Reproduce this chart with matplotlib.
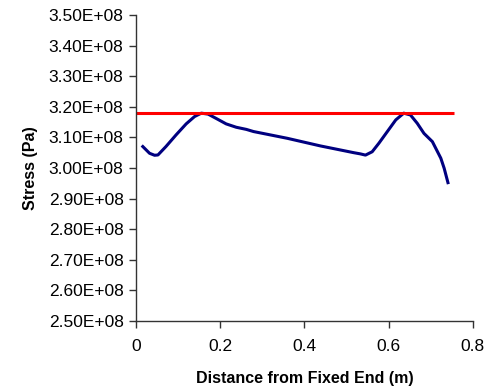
import matplotlib
matplotlib.use('Agg')
from matplotlib import pyplot as plt
from matplotlib.ticker import FuncFormatter

plt.rcParams['font.family'] = ['Liberation Sans', 'DejaVu Sans']

# data
dist = [0.016, 0.032, 0.044, 0.052, 0.071, 0.095, 0.119, 0.139, 0.155, 0.171,
        0.190, 0.214, 0.238, 0.262, 0.279, 0.359, 0.438, 0.517, 0.533, 0.545,
        0.561, 0.577, 0.597, 0.617, 0.636, 0.652, 0.668, 0.684, 0.704, 0.724,
        0.732, 0.741]
stress = [3.070, 3.048, 3.0415, 3.0425, 3.070, 3.108, 3.144, 3.168, 3.179, 3.176,
          3.162, 3.144, 3.133, 3.126, 3.119, 3.097, 3.072, 3.050, 3.046, 3.042,
          3.053, 3.081, 3.119, 3.157, 3.179, 3.173, 3.146, 3.113, 3.086, 3.032,
          2.999, 2.952]
stress = [s * 1e8 for s in stress]
limit_x = [0.0, 0.755]
limit_y = [3.181e8, 3.181e8]

fig = plt.figure(figsize=(4.93, 3.92), dpi=100)
ax = fig.add_axes([0.276, 0.181, 0.683, 0.781])

ax.plot(dist, stress, color='#000080', lw=2.2, solid_joinstyle='round')
ax.plot(limit_x, limit_y, color='#FF0000', lw=2.2, solid_capstyle='butt')

ax.set_xlim(0, 0.8)
ax.set_ylim(2.5e8, 3.5e8)
ax.set_xticks([0, 0.2, 0.4, 0.6, 0.8])
ax.set_xticklabels(['0', '0.2', '0.4', '0.6', '0.8'])
ax.set_yticks([2.5e8 + i * 0.1e8 for i in range(11)])
ax.yaxis.set_major_formatter(FuncFormatter(lambda v, p: '%.2fE+08' % (v / 1e8)))

for s in ['top', 'right']:
    ax.spines[s].set_visible(False)
for s in ['left', 'bottom']:
    ax.spines[s].set_color('#333333')
    ax.spines[s].set_linewidth(1.0)

ax.tick_params(axis='both', direction='out', length=5, width=1, color='#333333',
               labelsize=12.5, labelcolor='black')
ax.tick_params(axis='x', pad=8)
ax.tick_params(axis='y', pad=4)

ax.set_xlabel('Distance from Fixed End (m)', fontsize=11.5, fontweight='bold', labelpad=12)
ax.set_ylabel('Stress (Pa)', fontsize=11.5, fontweight='bold', labelpad=8)

fig.savefig('out.png', dpi=100)
